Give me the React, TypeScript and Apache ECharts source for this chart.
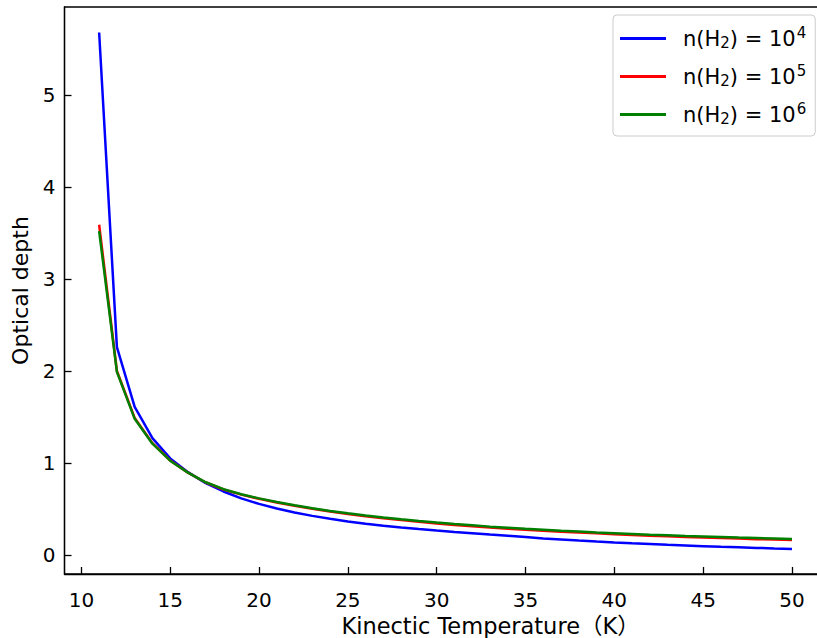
import React, { useEffect, useRef } from "react";
import * as echarts from "echarts";

const temperatures = [11, 12, 13, 14, 15, 16, 17, 18, 19, 20, 21, 22, 23, 24, 25, 26, 27, 28, 29, 30, 31, 32, 33, 34, 35, 36, 37, 38, 39, 40, 41, 42, 43, 44, 45, 46, 47, 48, 49, 50];

const tauN4 = [5.68, 2.26, 1.61, 1.27, 1.05, 0.9, 0.78, 0.69, 0.615, 0.555, 0.505, 0.462, 0.425, 0.393, 0.364, 0.339, 0.317, 0.298, 0.281, 0.265, 0.25, 0.236, 0.222, 0.209, 0.196, 0.18, 0.168, 0.156, 0.145, 0.135, 0.126, 0.118, 0.11, 0.103, 0.096, 0.089, 0.083, 0.077, 0.071, 0.066];

const tauN5 = [3.59, 2.0, 1.49, 1.215, 1.027, 0.895, 0.788, 0.712, 0.656, 0.61, 0.571, 0.534, 0.502, 0.472, 0.446, 0.422, 0.399, 0.379, 0.361, 0.343, 0.327, 0.313, 0.299, 0.286, 0.274, 0.264, 0.253, 0.244, 0.235, 0.226, 0.218, 0.21, 0.203, 0.196, 0.19, 0.184, 0.178, 0.172, 0.167, 0.162];

const tauN6 = [3.52, 1.99, 1.48, 1.21, 1.025, 0.895, 0.79, 0.715, 0.66, 0.615, 0.576, 0.54, 0.508, 0.479, 0.453, 0.429, 0.407, 0.387, 0.369, 0.352, 0.336, 0.322, 0.308, 0.296, 0.284, 0.274, 0.263, 0.254, 0.245, 0.237, 0.229, 0.221, 0.214, 0.207, 0.201, 0.195, 0.189, 0.184, 0.179, 0.174];

const xTicks = [10, 15, 20, 25, 30, 35, 40, 45, 50];
const yTicks = [0, 1, 2, 3, 4, 5];

const seriesNames = ["n(H2) = 10^4", "n(H2) = 10^5", "n(H2) = 10^6"];
const seriesExps = ["4", "5", "6"];
const seriesColors = ["#0000ff", "#ff0000", "#008000"];
const seriesValues = [tauN4, tauN5, tauN6];

const FONT = "DejaVu Sans, Noto Sans CJK SC, sans-serif";

export default function App() {
  const ref = useRef<HTMLDivElement>(null);
  useEffect(() => {
    if (!ref.current) return;
    const chart = echarts.init(ref.current, undefined, { renderer: "svg" });
    const series = seriesNames.map((name, i) => ({
      name,
      type: "line",
      data: temperatures.map((t, j) => [t, seriesValues[i][j]]),
      symbol: "none",
      lineStyle: { color: seriesColors[i], width: 2.5 },
      itemStyle: { color: seriesColors[i] },
      z: 2 + i,
    }));
    chart.setOption({
      animation: false,
      backgroundColor: "#ffffff",
      textStyle: { fontFamily: FONT },
      grid: {
        left: 64.5,
        top: 7,
        right: -9.6,
        bottom: 64,
        containLabel: false,
        outerBoundsMode: "none",
        show: true,
        borderColor: "#000000",
        borderWidth: 1.3,
        backgroundColor: "transparent",
      },
      xAxis: {
        type: "value",
        min: 9.05,
        max: 51.95,
        splitLine: { show: false },
        axisLine: { show: true, onZero: false, lineStyle: { color: "#000", width: 1.3 } },
        axisTick: { show: true, inside: true, length: 7, customValues: xTicks, lineStyle: { color: "#000", width: 1.3 } },
        axisLabel: { customValues: xTicks, margin: 16, color: "#000", fontSize: 20, fontFamily: FONT },
        name: "Kinectic Temperature（K）",
        nameLocation: "middle",
        nameGap: 29,
        nameTextStyle: { color: "#000", fontSize: 22.5, fontFamily: FONT, padding: [0, 0, 0, 90] },
      },
      yAxis: {
        type: "value",
        min: -0.207,
        max: 5.957,
        splitLine: { show: false },
        axisLine: { show: true, onZero: false, lineStyle: { color: "#000", width: 1.3 } },
        axisTick: { show: true, inside: true, length: 7, customValues: yTicks, lineStyle: { color: "#000", width: 1.3 } },
        axisLabel: { customValues: yTicks, margin: 9, color: "#000", fontSize: 20, fontFamily: FONT },
        name: "Optical depth",
        nameLocation: "middle",
        nameGap: 23,
        nameTextStyle: { color: "#000", fontSize: 22, fontFamily: FONT },
      },
      legend: {
        left: 613,
        top: 15,
        orient: "vertical",
        icon: "rect",
        itemWidth: 46,
        itemHeight: 3,
        itemGap: 11,
        padding: [10, 9, 8, 7],
        borderColor: "#cccccc",
        borderWidth: 1,
        borderRadius: 4,
        backgroundColor: "rgba(255,255,255,0.8)",
        data: seriesNames,
        formatter: (name: string) => {
          const i = seriesNames.indexOf(name);
          return `{t|n(H}{sub|2}{t|) = 10}{sup|${seriesExps[i]}}`;
        },
        textStyle: {
          color: "#000",
          fontSize: 21,
          fontFamily: FONT,
          padding: [0, 0, 0, 12],
          rich: {
            t: { fontSize: 21, fontFamily: FONT, color: "#000", lineHeight: 24 },
            sub: { fontSize: 15, fontFamily: FONT, color: "#000", padding: [9, 0, 0, 0], lineHeight: 24 },
            sup: { fontSize: 15, fontFamily: FONT, color: "#000", padding: [0, 0, 12, 1], lineHeight: 24 },
          },
        },
      },
      series,
    });
    return () => chart.dispose();
  }, []);
  return (
    <div
      ref={ref}
      style={{ position: "fixed", left: 0, top: 0, width: 817, height: 638 }}
    />
  );
}
